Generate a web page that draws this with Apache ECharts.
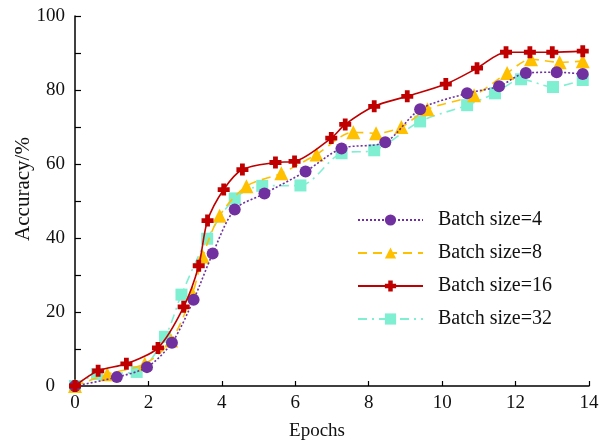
<!DOCTYPE html>
<html>
<head>
<meta charset="utf-8">
<script src="https://cdn.jsdelivr.net/npm/echarts@6/dist/echarts.min.js"></script>
<style>
  html, body { margin: 0; padding: 0; background: #fff; }
  #chart { width: 606px; height: 444px; }
</style>
</head>
<body>
<div id="chart"></div>
<script>
// legend names
const seriesNames = ['Batch size=4', 'Batch size=8', 'Batch size=16', 'Batch size=32']

// [epoch, accuracy]
const bs4 = [[0, 0], [1.14, 2.4], [1.96, 5.1], [2.64, 11.7], [3.23, 23.3], [3.75, 35.8], [4.35, 47.7],
  [5.16, 52], [6.28, 58], [7.26, 64.2], [8.45, 65.9], [9.4, 74.8], [10.68, 79.1], [11.55, 81],
  [12.28, 84.6], [13.12, 84.8], [13.83, 84.3]]
const bs8 = [[0, 0], [0.88, 3.2], [1.9, 6], [2.62, 12.3], [3.2, 25], [3.48, 35], [3.94, 46], [4.67, 54],
  [5.62, 57.5], [6.58, 62.6], [7.58, 68.6], [8.2, 68.3], [8.89, 70], [9.6, 74.8], [10.87, 78.6],
  [11.77, 84.6], [12.42, 88.3], [13.2, 87.5], [13.83, 87.8]]
const bs16 = [[0, 0], [0.63, 4.1], [1.4, 6], [2.26, 10.3], [2.96, 21.4], [3.37, 32.5], [3.61, 44.7],
  [4.05, 53.1], [4.56, 58.5], [5.46, 60.4], [5.98, 60.7], [6.98, 67], [7.36, 70.7], [8.15, 75.6],
  [9.05, 78.3], [10.1, 81.6], [10.95, 85.9], [11.74, 90.2], [12.39, 90.2], [13.0, 90.2], [13.83, 90.5]]
const bs32 = [[0, 0], [0.6, 3.2], [1.68, 3.8], [2.45, 13.3], [2.9, 24.7], [3.6, 39.8], [4.35, 50.7],
  [5.1, 54.1], [6.14, 54.2], [7.26, 62.9], [8.15, 63.7], [9.4, 71.5], [10.68, 75.9], [11.44, 79.1],
  [12.15, 82.9], [13.02, 80.8], [13.83, 82.7]]

const font = 'Liberation Serif, Times New Roman, serif'
const plusPath = 'path://M3,0H7V3H10V7H7V10H3V7H0V3H3Z'

const chart = echarts.init(document.getElementById('chart'))

const makeSeries = (name, data, color, symbol, dash, z) => ({
  name: name,
  type: 'line',
  data: data,
  smooth: 0.3,
  symbol: symbol,
  symbolSize: symbol === 'triangle' ? 14 : 12,
  z: z,
  lineStyle: { color: color, width: 1.6, type: dash },
  itemStyle: { color: color },
  emphasis: { disabled: true },
})

chart.setOption({
  animation: false,
  backgroundColor: '#fff',
  textStyle: { fontFamily: font },
  grid: { left: 75, right: 17, top: 16, bottom: 58, containLabel: false, outerBoundsMode: 'none' },
  legend: {
    data: seriesNames,
    orient: 'vertical',
    left: 352,
    top: 205,
    itemWidth: 65,
    itemHeight: 14,
    itemGap: 13,
    textStyle: { fontFamily: font, fontSize: 20, color: '#111', padding: [0, 0, 0, 10] },
  },
  xAxis: {
    type: 'value',
    min: 0,
    max: 14,
    interval: 2,
    name: 'Epochs',
    nameLocation: 'middle',
    nameGap: 36,
    nameMoveOverlap: false,
    nameTextStyle: { fontFamily: font, fontSize: 19, color: '#111', padding: [0, 30, 0, 0] },
    axisLine: { lineStyle: { color: '#000', width: 1.5 } },
    axisTick: { inside: true, length: 5, lineStyle: { color: '#000', width: 1.2 } },
    axisLabel: { fontFamily: font, fontSize: 19, color: '#111', margin: 8 },
    splitLine: { show: false },
  },
  yAxis: {
    type: 'value',
    min: 0,
    max: 100,
    interval: 10,
    name: 'Accuracy/%',
    nameLocation: 'middle',
    nameGap: 41,
    nameMoveOverlap: false,
    nameTextStyle: { fontFamily: font, fontSize: 21, color: '#111', padding: [0, 0, 0, 24] },
    axisLine: { show: true, lineStyle: { color: '#000', width: 1.5 } },
    axisTick: { inside: true, length: 6, lineStyle: { color: '#000', width: 1.2 } },
    axisLabel: {
      fontFamily: font,
      fontSize: 19,
      color: '#111',
      margin: 10,
      formatter: (v) => (v === 0 ? '{z|0}' : v % 20 === 0 ? String(v) : ''),
      rich: { z: { fontFamily: font, fontSize: 19, color: '#111', padding: [0, 10, 0, 0] } },
    },
    splitLine: { show: false },
  },
  series: [
    makeSeries(seriesNames[0], bs4, '#7030A0', 'circle', [2, 2], 3),
    makeSeries(seriesNames[1], bs8, '#FFC000', 'triangle', [9, 6], 2),
    makeSeries(seriesNames[2], bs16, '#C00000', plusPath, 'solid', 4),
    makeSeries(seriesNames[3], bs32, '#7FEFD2', 'rect', [9, 5, 2, 5], 1),
  ],
})
</script>
</body>
</html>
